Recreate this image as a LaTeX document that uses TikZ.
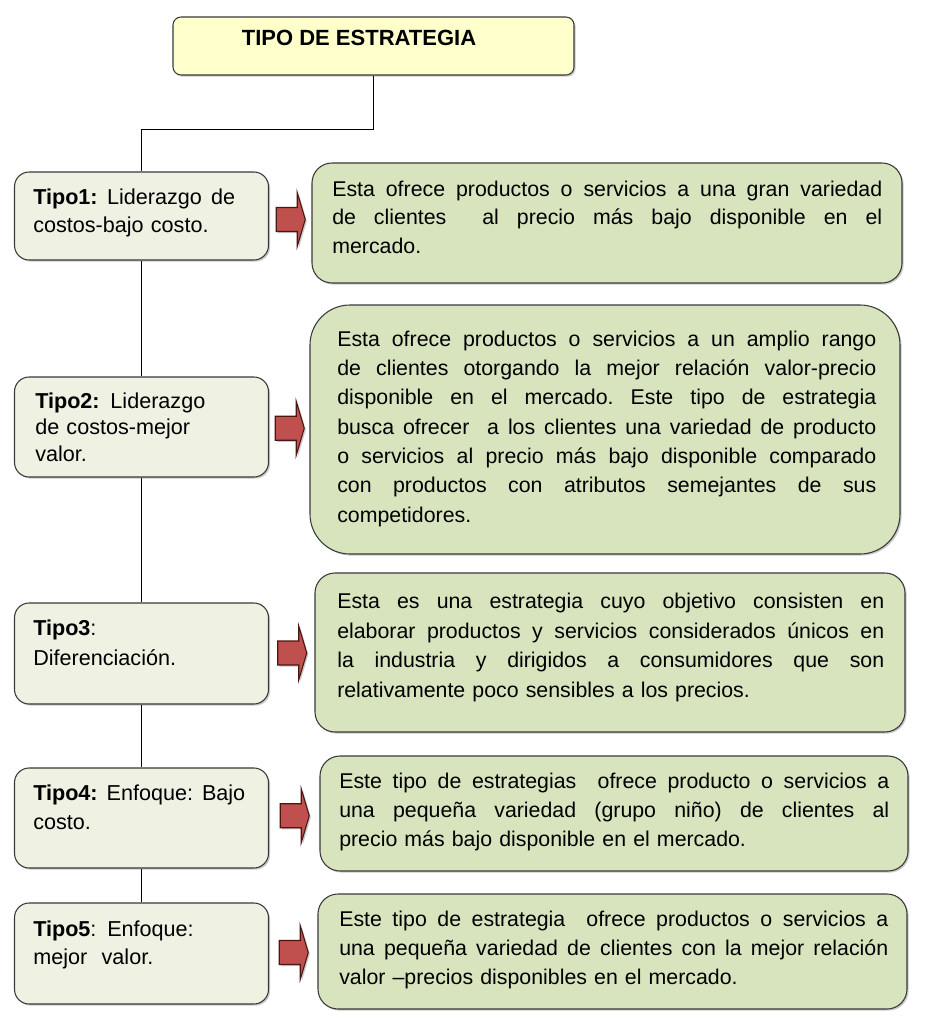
\documentclass[tikz,border=0pt]{standalone}
\usepackage{fontspec}
\setmainfont{Liberation Sans}
\usetikzlibrary{calc,shadows}
\definecolor{topfill}{HTML}{FFFFCC}
\definecolor{leftfill}{HTML}{EFF1E3}
\definecolor{rightfill}{HTML}{D7E4BD}
\definecolor{arrowfill}{HTML}{C0504D}
\definecolor{arrowline}{HTML}{4A1614}
\definecolor{boxline}{HTML}{3A3A3A}
\newcommand{\JL}[2]{\leavevmode\hbox to #1{\frenchspacing\spaceskip=.278em plus 1fil\relax\xspaceskip=\spaceskip #2}}
\begin{document}
\begin{tikzpicture}[x=0.75pt,y=-0.75pt,
  myshadow/.style={drop shadow={shadow xshift=1.2pt,shadow yshift=-1.2pt,opacity=0.35,fill=black!60}},
  topbox/.style={draw=boxline,line width=0.8pt,fill=topfill,rounded corners=6pt,inner sep=0pt,myshadow},
  leftbox/.style={draw=boxline,line width=0.8pt,fill=leftfill,rounded corners=11pt,inner sep=0pt,minimum width=190.5pt,myshadow},
  rightbox/.style={draw=boxline,line width=0.8pt,fill=rightfill,rounded corners=15pt,inner sep=0pt,myshadow},
  conn/.style={draw=black,line width=0.75pt},
  blockarrow/.style={draw=arrowline,line width=0.8pt,fill=arrowfill,line join=miter,myshadow},
  rtxt/.style={anchor=north west,inner sep=0pt,align=left,font=\fontsize{16pt}{22pt}\selectfont},
  ltxt/.style={anchor=north west,inner sep=0pt,align=left,font=\fontsize{16.2pt}{21pt}\selectfont}]
\useasboundingbox (0,0) rectangle (935,1034);
\fill[white] (0,0) rectangle (935,1034);

% title box
\node[topbox,minimum width=300.75pt,minimum height=43.5pt] (T) at (373.5,46) {};
\node[anchor=base,inner sep=0pt,font=\bfseries\fontsize{16.5pt}{18pt}\selectfont] (title) at (359,46) {TIPO DE ESTRATEGIA};

% left boxes
\node[leftbox,minimum height=66pt] (L1) at (141.5,216) {};
\node[leftbox,minimum height=75pt] (L2) at (141.5,427) {};
\node[leftbox,minimum height=75.75pt] (L3) at (141.5,653.5) {};
\node[leftbox,minimum height=75pt] (L4) at (141.5,818) {};
\node[leftbox,minimum height=75.75pt] (L5) at (141.5,953.5) {};

% right boxes
\node[rightbox,minimum width=442.5pt,minimum height=90pt] (R1) at (607,223) {};
\node[rightbox,rounded corners=30pt,minimum width=442.5pt,minimum height=186.75pt] (R2) at (605,429.5) {};
\node[rightbox,minimum width=442.5pt,minimum height=119.25pt] (R3) at (610,652.5) {};
\node[rightbox,minimum width=441pt,minimum height=86.25pt] (R4) at (614,813.5) {};
\node[rightbox,minimum width=441.75pt,minimum height=86.25pt] (R5) at (612.5,951.5) {};

% connectors
\draw[conn] (T.south) -- ++(0,54) -| (L1.north);
\draw[conn] (L1.south) -- (L2.north);
\draw[conn] (L2.south) -- (L3.north);
\draw[conn] (L3.south) -- (L4.north);
\draw[conn] (L4.south) -- (L5.north);

% block arrows
\foreach \i in {1,...,5}{
  \coordinate (a\i) at ($(L\i.east)!0.5!(R\i.west)$);
  \draw[blockarrow,shift={(a\i)}] (-14,-12) -- (7,-12) -- (7,-27) -- (15,0) -- (7,27) -- (7,12) -- (-14,12) -- cycle;
}

% left texts
\node[ltxt,text width=165pt] (t1) at (33,184.4) {\strut\JL{151.5pt}{\textbf{Tipo1:} Liderazgo de}\\costos-bajo costo.};
\node[ltxt,text width=165pt,font=\fontsize{16.2pt}{20pt}\selectfont] (t2) at (35,389.3) {\strut\textbf{Tipo2:} Liderazgo\\de costos-mejor\\valor.};
\node[ltxt,text width=165pt,font=\fontsize{16.2pt}{22.5pt}\selectfont] (t3) at (33,614) {\strut\textbf{Tipo3}:\\Diferenciación.};
\node[ltxt,text width=165pt,font=\fontsize{16.2pt}{21.75pt}\selectfont] (t4) at (33,779.7) {\strut\JL{159pt}{\textbf{Tipo4:} Enfoque: Bajo}\\costo.};
\node[ltxt,text width=165pt] (t5) at (33,916.4) {\strut\textbf{Tipo5}: Enfoque:\\mejor \ valor.};

% right texts
\node[rtxt,text width=420pt,font=\fontsize{16pt}{21.4pt}\selectfont] (s1) at (332,176) {\strut\JL{412.5pt}{Esta ofrece productos o servicios a una gran variedad}\\
\JL{412.5pt}{de clientes \ al precio más bajo disponible en el}\\
mercado.};
\node[rtxt,text width=420pt] (s2) at (337,325.5) {\strut\JL{404.25pt}{Esta ofrece productos o servicios a un amplio rango}\\
\JL{404.25pt}{de clientes otorgando la mejor relación valor-precio}\\
\JL{404.25pt}{disponible en el mercado. Este tipo de estrategia}\\
\JL{404.25pt}{busca ofrecer \ a los clientes una variedad de producto}\\
\JL{404.25pt}{o servicios al precio más bajo disponible comparado}\\
\JL{404.25pt}{con productos con atributos semejantes de sus}\\
competidores.};
\node[rtxt,text width=420pt,font=\fontsize{16pt}{22.3pt}\selectfont] (s3) at (337,587.2) {\strut\JL{410.25pt}{Esta es una estrategia cuyo objetivo consisten en}\\
\JL{410.25pt}{elaborar productos y servicios considerados únicos en}\\
\JL{410.25pt}{la industria y dirigidos a consumidores que son}\\
relativamente poco sensibles a los precios.};
\node[rtxt,text width=420pt,font=\fontsize{16pt}{21.75pt}\selectfont] (s4) at (339,767.7) {\strut\JL{412.5pt}{Este tipo de estrategias \ ofrece producto o servicios a}\\
\JL{412.5pt}{una pequeña variedad (grupo niño) de clientes al}\\
precio más bajo disponible en el mercado.};
\node[rtxt,text width=420pt,font=\fontsize{16pt}{21.75pt}\selectfont] (s5) at (339,905.7) {\strut\JL{411.75pt}{Este tipo de estrategia \ ofrece productos o servicios a}\\
\JL{411.75pt}{una pequeña variedad de clientes con la mejor relación}\\
valor –precios disponibles en el mercado.};
\end{tikzpicture}
\end{document}
